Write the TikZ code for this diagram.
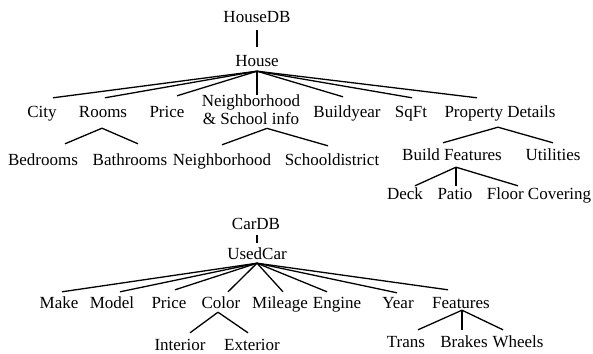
\documentclass[tikz,border=0pt]{standalone}
\usepackage{fontspec}
\setmainfont{Liberation Serif}

\begin{document}
\begin{tikzpicture}[
  x=1pt, y=-1pt,
  font=\fontsize{17}{18}\selectfont,
  lbl/.style={inner sep=0pt, text height=12pt, text depth=4pt, anchor=base},
  twoline/.style={inner sep=0pt, align=center, anchor=north},
  branch/.style={line width=1.3pt}
]
\useasboundingbox (0,0) rectangle (593,353);

% house database
\node[lbl] (housedb) at (257,23) {HouseDB};
\node[lbl] (house) at (257,66) {House};

\node[lbl] (city) at (42,117) {City};
\node[lbl] (rooms) at (103,117) {Rooms};
\node[lbl] (price) at (167,117) {Price};
\node[twoline] (nbr) at (251,95) {Neighborhood\\\& School info};
\node[lbl] (byear) at (347,117) {Buildyear};
\node[lbl] (sqft) at (411,117) {SqFt};
\node[lbl] (prop) at (500,117) {Property Details};

\node[lbl] (bed) at (43,165) {Bedrooms};
\node[lbl] (bath) at (130,165) {Bathrooms};
\node[lbl] (nbh) at (222,165) {Neighborhood};
\node[lbl] (school) at (332,165) {Schooldistrict};
\node[lbl] (bfeat) at (452,160) {Build Features};
\node[lbl] (util) at (553,160) {Utilities};

\node[lbl] (deck) at (405,199) {Deck};
\node[lbl] (patio) at (455,199) {Patio};
\node[lbl] (floor) at (539,199) {Floor Covering};

\draw[branch] ([yshift=-3pt]housedb.south) -- ([yshift=7pt]house.north);

\draw[branch] ([yshift=-1pt]house.south) -- ([xshift=11pt,yshift=7pt]city.north);
\draw[branch] ([yshift=-1pt]house.south) -- ([xshift=2pt,yshift=7pt]rooms.north);
\draw[branch] ([yshift=-1pt]house.south) -- ([xshift=10pt,yshift=9pt]price.north);
\draw[branch] ([yshift=-1pt]house.south) -- (house.south |- nbr.north);
\draw[branch] ([yshift=-1pt]house.south) -- ([xshift=-4pt,yshift=8pt]byear.north);
\draw[branch] ([yshift=-1pt]house.south) -- ([xshift=1pt,yshift=7pt]sqft.north);
\draw[branch] ([yshift=-1pt]house.south) -- ([xshift=-23pt,yshift=7pt]prop.north);

\draw[branch] ([xshift=-1pt,yshift=-7pt]rooms.south) -- ([xshift=22pt,yshift=9pt]bed.north);
\draw[branch] ([xshift=-1pt,yshift=-7pt]rooms.south) -- ([xshift=8pt,yshift=9pt]bath.north);

\draw[branch] ([xshift=16pt,yshift=-3pt]nbr.south) -- ([yshift=8pt]nbh.north);
\draw[branch] ([xshift=16pt,yshift=-3pt]nbr.south) -- ([xshift=-4pt,yshift=7pt]school.north);

\draw[branch] ([xshift=-2pt,yshift=-6pt]prop.south) -- ([xshift=-9pt,yshift=5pt]bfeat.north);
\draw[branch] ([xshift=-2pt,yshift=-6pt]prop.south) -- ([yshift=5pt]util.north);

\draw[branch] ([xshift=4pt,yshift=-3pt]bfeat.south) -- ([xshift=10pt,yshift=1pt]deck.north);
\draw[branch] ([xshift=4pt,yshift=-3pt]bfeat.south) -- ([xshift=1pt,yshift=1pt]patio.north);
\draw[branch] ([xshift=4pt,yshift=-3pt]bfeat.south) -- ([xshift=-21pt,yshift=1pt]floor.north);

% car database
\node[lbl] (cardb) at (256,229) {CarDB};
\node[lbl] (usedcar) at (257,259) {UsedCar};

\node[lbl] (make) at (59,308) {Make};
\node[lbl] (model) at (112,308) {Model};
\node[lbl] (cprice) at (169,308) {Price};
\node[lbl] (color) at (221,308) {Color};
\node[lbl] (mileage) at (280,308) {Mileage};
\node[lbl] (engine) at (337,308) {Engine};
\node[lbl] (year) at (398,308) {Year};
\node[lbl] (feat) at (461,308) {Features};

\node[lbl] (interior) at (180,350) {Interior};
\node[lbl] (exterior) at (252,350) {Exterior};
\node[lbl] (trans) at (406,347) {Trans};
\node[lbl] (brakes) at (464,347) {Brakes};
\node[lbl] (wheels) at (518,347) {Wheels};

\draw[branch] ([xshift=1pt,yshift=-2pt]cardb.south) -- ([yshift=4pt]usedcar.north);

\draw[branch] (usedcar.south) -- ([xshift=3pt,yshift=4pt]make.north);
\draw[branch] (usedcar.south) -- ([xshift=8pt,yshift=4pt]model.north);
\draw[branch] (usedcar.south) -- ([xshift=6pt,yshift=6pt]cprice.north);
\draw[branch] (usedcar.south) -- ([xshift=7pt,yshift=4pt]color.north);
\draw[branch] (usedcar.south) -- ([xshift=3pt,yshift=4pt]mileage.north);
\draw[branch] (usedcar.south) -- ([xshift=-10pt,yshift=4pt]engine.north);
\draw[branch] (usedcar.south) -- ([xshift=-1pt,yshift=3pt]year.north);
\draw[branch] (usedcar.south) -- ([xshift=-13pt,yshift=6pt]feat.north);

\draw[branch] ([xshift=-3pt]color.south) -- ([xshift=10pt,yshift=5pt]interior.north);
\draw[branch] ([xshift=-3pt]color.south) -- ([xshift=-4pt,yshift=5pt]exterior.north);

\draw[branch] ([xshift=1pt,yshift=2pt]feat.south) -- ([xshift=12pt,yshift=5pt]trans.north);
\draw[branch] ([xshift=1pt,yshift=2pt]feat.south) -- ([xshift=-2pt,yshift=5pt]brakes.north);
\draw[branch] ([xshift=1pt,yshift=2pt]feat.south) -- ([xshift=-15pt,yshift=5pt]wheels.north);
\end{tikzpicture}
\end{document}
